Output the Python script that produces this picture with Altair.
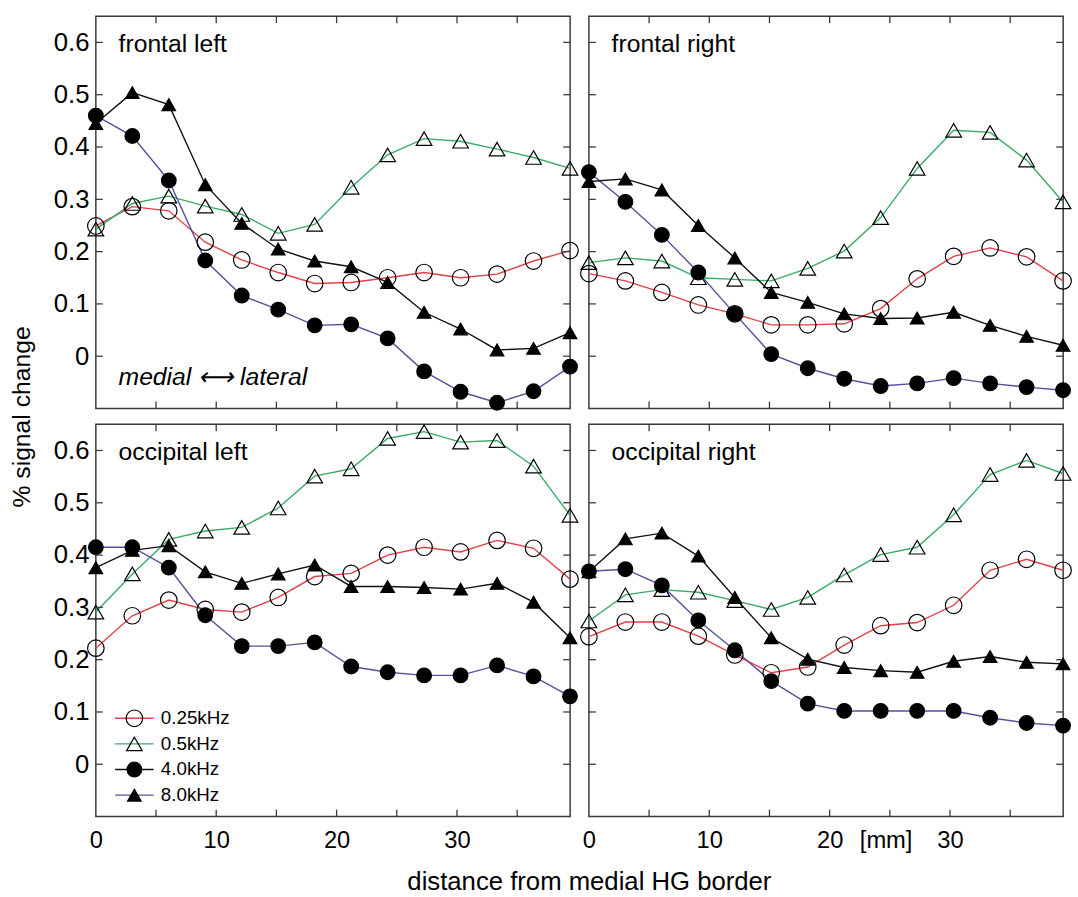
import altair as alt
import pandas as pd

# ---------------- data ----------------
distance = [0, 3.03, 6.06, 9.09, 12.12, 15.15, 18.18, 21.21, 24.24, 27.27, 30.3, 33.33, 36.36, 39.39]
series = ["0.25kHz", "0.5kHz", "4.0kHz", "8.0kHz"]

frontal_left_025 = [0.249, 0.286, 0.278, 0.218, 0.184, 0.160, 0.139, 0.141, 0.150, 0.160, 0.150, 0.157, 0.182, 0.202]
frontal_left_05 = [0.243, 0.292, 0.306, 0.287, 0.271, 0.235, 0.252, 0.323, 0.385, 0.416, 0.411, 0.396, 0.380, 0.359]
frontal_left_40 = [0.460, 0.421, 0.336, 0.183, 0.116, 0.089, 0.059, 0.061, 0.034, -0.029, -0.068, -0.089, -0.067, -0.020]
frontal_left_80 = [0.445, 0.504, 0.481, 0.328, 0.254, 0.205, 0.182, 0.171, 0.141, 0.084, 0.052, 0.012, 0.015, 0.045]

frontal_right_025 = [0.158, 0.144, 0.122, 0.098, 0.081, 0.060, 0.060, 0.062, 0.091, 0.148, 0.191, 0.207, 0.190, 0.144]
frontal_right_05 = [0.179, 0.188, 0.182, 0.150, 0.147, 0.144, 0.168, 0.201, 0.265, 0.359, 0.432, 0.428, 0.375, 0.295]
frontal_right_40 = [0.352, 0.295, 0.232, 0.160, 0.081, 0.004, -0.023, -0.043, -0.057, -0.052, -0.042, -0.052, -0.059, -0.065]
frontal_right_80 = [0.334, 0.339, 0.318, 0.250, 0.188, 0.122, 0.103, 0.081, 0.072, 0.073, 0.084, 0.059, 0.038, 0.021]

occipital_left_025 = [0.222, 0.284, 0.314, 0.296, 0.291, 0.319, 0.359, 0.365, 0.400, 0.415, 0.406, 0.428, 0.413, 0.354]
occipital_left_05 = [0.291, 0.364, 0.430, 0.446, 0.453, 0.490, 0.551, 0.565, 0.623, 0.636, 0.616, 0.619, 0.570, 0.476]
occipital_left_40 = [0.415, 0.415, 0.376, 0.285, 0.226, 0.226, 0.233, 0.187, 0.176, 0.170, 0.170, 0.189, 0.168, 0.130]
occipital_left_80 = [0.376, 0.409, 0.418, 0.368, 0.346, 0.364, 0.381, 0.340, 0.340, 0.338, 0.335, 0.346, 0.310, 0.242]

occipital_right_025 = [0.244, 0.272, 0.272, 0.245, 0.209, 0.175, 0.186, 0.228, 0.265, 0.271, 0.304, 0.371, 0.392, 0.371]
occipital_right_05 = [0.274, 0.324, 0.334, 0.329, 0.313, 0.296, 0.319, 0.362, 0.401, 0.415, 0.477, 0.554, 0.581, 0.556]
occipital_right_40 = [0.369, 0.373, 0.342, 0.275, 0.218, 0.159, 0.116, 0.102, 0.102, 0.102, 0.102, 0.089, 0.079, 0.074]
occipital_right_80 = [0.368, 0.431, 0.442, 0.398, 0.319, 0.242, 0.201, 0.185, 0.179, 0.176, 0.197, 0.206, 0.195, 0.192]

x_tick_values = [0, 10, 20, 30]
x_minor_ticks = [5, 10, 15, 20, 25, 30, 35]
y_tick_values = [0, 0.1, 0.2, 0.3, 0.4, 0.5, 0.6]
mm_label_pos = 24.65

# ---------------- build tables ----------------
panel_series = {
    "frontal left": [frontal_left_025, frontal_left_05, frontal_left_40, frontal_left_80],
    "frontal right": [frontal_right_025, frontal_right_05, frontal_right_40, frontal_right_80],
    "occipital left": [occipital_left_025, occipital_left_05, occipital_left_40, occipital_left_80],
    "occipital right": [occipital_right_025, occipital_right_05, occipital_right_40, occipital_right_80],
}
rows = []
for pname, vals in panel_series.items():
    for s, v in zip(series, vals):
        for d, val in zip(distance, v):
            rows.append({"panel": pname, "series": s, "distance": d, "signal": val})
data = pd.DataFrame(rows)

# ---------------- style ----------------
W, H = 480, 397
FONT = "Liberation Sans"
FRAME = "#3a3a3a"
line_colors = ["#e2404a", "#3aaa68", "#5b4e9f", "#111111"]
legend_line_colors = ["#e2404a", "#3aaa68", "#111111", "#5b4e9f"]
shapes = ["circle", "triangle-up", "circle", "triangle-up"]
fills = ["transparent", "transparent", "black", "black"]
sizes = [280, 190, 280, 190]
TICK = 7

xscale = alt.Scale(domain=[0, 39.4], nice=False, zero=False)
yscale = alt.Scale(domain=[-0.1, 0.65], nice=False, zero=False)
color_scale = alt.Scale(domain=series, range=line_colors)
shape_scale = alt.Scale(domain=series, range=shapes)
fill_scale = alt.Scale(domain=series, range=fills)
size_scale = alt.Scale(domain=series, range=sizes)


def x_axis(kind):
    if kind is None:
        return None
    common = dict(ticks=False, domain=False, grid=False, labelFontSize=24, labelPadding=12,
                  labelFlush=False, labelOverlap=False, labelColor="black", labelFont=FONT)
    if kind == "left":
        return alt.Axis(values=x_tick_values, format="d",
                        title="distance from medial HG border", titleFontSize=26,
                        titleFont=FONT, titleFontWeight="normal", titleColor="black",
                        titleX=W + 19, titleY=66, titleBaseline="middle", titleAlign="center",
                        **common)
    return alt.Axis(values=x_tick_values + [mm_label_pos], title=None,
                    labelExpr=f"abs(datum.value - {mm_label_pos}) < 0.01 ? '[mm]' : format(datum.value, 'd')",
                    **common)


def y_axis(show, with_title=False):
    if not show:
        return None
    kw = dict(values=y_tick_values, ticks=False, domain=False, grid=False,
              labelFontSize=26, labelPadding=7, labelColor="black", labelFont=FONT,
              labelExpr="abs(datum.value) < 1e-9 ? '0' : format(datum.value, '.1f')")
    if with_title:
        kw.update(title="% signal change", titleFontSize=25, titleFont=FONT,
                  titleFontWeight="normal", titleColor="black", titleX=-75, titleY=H + 8,
                  titleAngle=270, titleAlign="center", titleBaseline="middle")
    else:
        kw.update(title=None)
    return alt.Axis(**kw)


def panel(name, xkind, yshow, ytitle=False, legend=False, note=None):
    df = data[data["panel"] == name]
    base = alt.Chart(df)
    xa = x_axis(xkind)
    ya = y_axis(yshow, ytitle)
    X = lambda f: alt.X(f"{f}:Q", scale=xscale, axis=xa)
    Y = lambda f: alt.Y(f"{f}:Q", scale=yscale, axis=ya)

    lines = base.mark_line(strokeWidth=1.4).encode(
        x=X("distance"), y=Y("signal"),
        color=alt.Color("series:N", scale=color_scale, legend=None),
        detail="series:N")
    pts = base.mark_point(stroke="black", strokeWidth=1.2, opacity=1).encode(
        x=X("distance"), y=Y("signal"),
        shape=alt.Shape("series:N", scale=shape_scale, legend=None),
        fill=alt.Fill("series:N", scale=fill_scale, legend=None),
        size=alt.Size("series:N", scale=size_scale, legend=None))

    xt = alt.Chart(pd.DataFrame({"distance": x_minor_ticks}))
    yt = alt.Chart(pd.DataFrame({"signal": y_tick_values}))
    tick_style = dict(color=FRAME, strokeWidth=1.3)
    ticks = [
        xt.mark_rule(**tick_style).encode(x=X("distance"), y=alt.value(0), y2=alt.value(TICK)),
        xt.mark_rule(**tick_style).encode(x=X("distance"), y=alt.value(H), y2=alt.value(H - TICK)),
        yt.mark_rule(**tick_style).encode(y=Y("signal"), x=alt.value(0), x2=alt.value(TICK)),
        yt.mark_rule(**tick_style).encode(y=Y("signal"), x=alt.value(W), x2=alt.value(W - TICK)),
    ]
    title = alt.Chart(pd.DataFrame({"t": [name]})).mark_text(
        align="left", baseline="alphabetic", font=FONT, fontSize=25, color="black").encode(
        text="t:N", x=alt.value(23), y=alt.value(36))
    layers = [lines, pts] + ticks + [title]
    if note:
        layers.append(alt.Chart(pd.DataFrame({"t": [note]})).mark_text(
            align="left", baseline="alphabetic", font=FONT, fontSize=25, fontStyle="italic",
            color="black").encode(text="t:N", x=alt.value(23), y=alt.value(373)))
    if legend:
        leg = pd.DataFrame({"series": series, "i": list(range(len(series)))})
        leg["signal"] = 0.088 - 0.049 * leg["i"]
        leg["x1"] = 1.6
        leg["x2"] = 4.8
        leg["distance"] = 3.2
        leg["tx"] = 5.4
        lb = alt.Chart(leg)
        layers += [
            lb.mark_rule(strokeWidth=1.4).encode(
                x=X("x1"), x2="x2:Q", y=Y("signal"),
                stroke=alt.Stroke("series:N", scale=alt.Scale(domain=series, range=legend_line_colors), legend=None)),
            lb.mark_point(stroke="black", strokeWidth=1.2, opacity=1).encode(
                x=X("distance"), y=Y("signal"),
                shape=alt.Shape("series:N", scale=shape_scale, legend=None),
                fill=alt.Fill("series:N", scale=fill_scale, legend=None),
                size=alt.Size("series:N", scale=size_scale, legend=None)),
            lb.mark_text(align="left", baseline="middle", font=FONT, fontSize=19, color="black").encode(
                x=X("tx"), y=Y("signal"), text="series:N"),
        ]
    return alt.layer(*layers).properties(width=W, height=H)


tl = panel("frontal left", None, True, ytitle=True, note="medial \u27f7 lateral")
tr = panel("frontal right", None, False)
bl = panel("occipital left", "left", True, legend=True)
br = panel("occipital right", "right", False)

chart = alt.concat(
    tl, tr, bl, br,
    columns=2,
    spacing={"row": 16, "column": 19},
    bounds="flush",
).properties(
    padding={"left": 9, "top": 9, "right": 3, "bottom": 2},
    background="white",
).configure_view(stroke=FRAME, strokeWidth=1.5)

chart.save("out.html", embed_options={"renderer": "svg", "actions": False})
